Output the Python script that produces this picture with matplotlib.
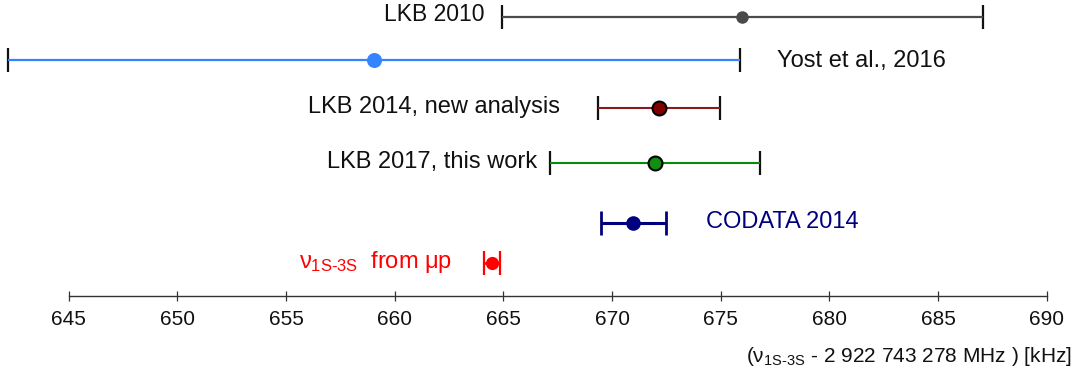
import matplotlib
matplotlib.use("Agg")
import matplotlib.pyplot as plt

plt.rcParams['font.family'] = ['Liberation Sans', 'DejaVu Sans']
plt.rcParams['mathtext.fontset'] = 'custom'
plt.rcParams['mathtext.rm'] = 'Liberation Sans'
plt.rcParams['mathtext.it'] = 'Liberation Sans'
plt.rcParams['mathtext.bf'] = 'Liberation Sans:bold'

NU = r"$\nu_{\text{1S-3S}}$"

# Measurements of the 1S-3S hydrogen transition, offset from 2 922 743 278 MHz (kHz)
names = ["LKB 2010", "Yost et al., 2016", "LKB 2014, new analysis",
         "LKB 2017, this work", "CODATA 2014", NU + "  from \u03bcp"]
values = [676.0, 659.05, 672.16, 671.98, 670.98, 664.48]
errors = [11.05, 16.85, 2.8, 4.85, 1.5, 0.38]

# styling per measurement
line_colors = ["#4a4a4a", "#3385ff", "#8b1a1a", "#0a8a0a", "#00007f", "#ff0000"]
face_colors = ["#4a4a4a", "#3385ff", "#800000", "#109010", "#00007f", "#ff0000"]
edge_colors = ["#4a4a4a", "#3385ff", "#000000", "#000000", "#00007f", "#ff0000"]
cap_colors = ["#111111", "#111111", "#111111", "#111111", "#00007f", "#ff0000"]
text_colors = ["#111111", "#111111", "#111111", "#111111", "#00007f", "#ff0000"]
line_widths = [1.6, 1.6, 1.5, 1.5, 2.2, 1.8]
marker_sizes = [9.0, 10.8, 10.0, 10.0, 10.5, 9.5]
edge_widths = [0, 0, 1.5, 1.5, 0, 0]

# vertical placement of the rows and label offsets (pixels)
rows = [17.3, 60.0, 108.3, 162.7, 223.3, 263.3]
label_side = ["left", "right", "left", "left", "right", "left"]
label_dx = [-17.7, 36.3, -37.6, -12.3, 40.0, -31.6]
label_dy = [-3.7, -6.7, -5.0, -5.6, -5.0, -4.7]
label_sizes = [16.5, 17, 17, 17, 17, 17]

W, H = 1091, 376
fig = plt.figure(figsize=(W / 100, H / 100), dpi=100)
ax = fig.add_axes([0, 80 / H, 1, 296 / H])
ax.set_xlim(641.84, 692.04)
ax.set_ylim(296, 0)

for i in range(len(values)):
    eb = ax.errorbar(values[i], rows[i], xerr=errors[i], fmt='o',
                     color=line_colors[i], ecolor=line_colors[i],
                     elinewidth=line_widths[i], capsize=8.6, capthick=1.6,
                     markersize=marker_sizes[i], markerfacecolor=face_colors[i],
                     markeredgecolor=edge_colors[i], markeredgewidth=edge_widths[i],
                     zorder=3)
    for cap in eb[1]:
        cap.set_markeredgecolor(cap_colors[i])
        cap.set_markeredgewidth(2.0 if i == 4 else 1.6)
        cap.set_markersize(17.2)
        cap.set_zorder(2)
    if label_side[i] == "left":
        anchor_x = values[i] - errors[i]
        ha = "right"
    else:
        anchor_x = values[i] + errors[i]
        ha = "left"
    ax.annotate(names[i], xy=(anchor_x, rows[i]),
                xytext=(label_dx[i], label_dy[i]), textcoords='offset pixels',
                ha=ha, va='baseline', fontsize=label_sizes[i], color=text_colors[i])

# bottom axis only
for s in ["top", "left", "right"]:
    ax.spines[s].set_visible(False)
ax.spines["bottom"].set_bounds(645, 690)
ax.spines["bottom"].set_color("#333333")
ax.spines["bottom"].set_linewidth(1.0)
ax.set_yticks([])
ax.set_xticks(range(645, 691, 5))
ax.tick_params(axis='x', direction='inout', length=7.5, width=0.9,
               color="#333333", labelsize=15, pad=6, labelcolor="#111111")
ax.patch.set_alpha(0)

# axis title
fig.text(1072 / W, (H - 362) / H, "(" + NU + " - 2 922 743 278 MHz ) [kHz]",
         ha='right', va='baseline', fontsize=15, color="#111111")

fig.savefig("out.png", dpi=100)
